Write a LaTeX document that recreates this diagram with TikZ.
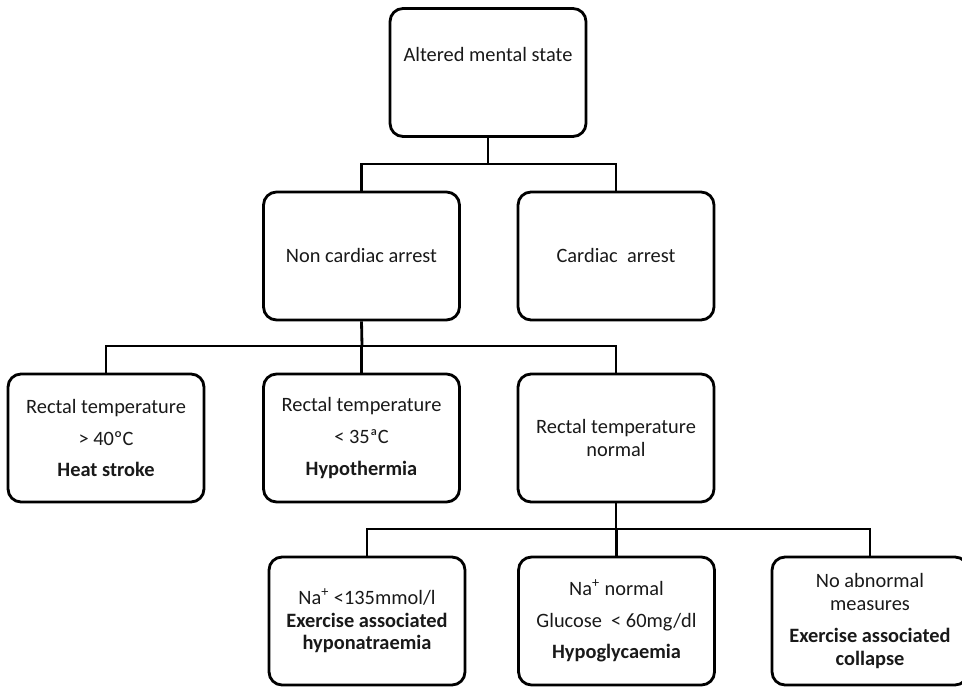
\documentclass[tikz,border=0pt]{standalone}
\usepackage{fontspec}
\setmainfont{Carlito}
\begin{document}
\begin{tikzpicture}[x=0.02cm,y=-0.02cm,
  box/.style={draw, line width=1.6pt, rounded corners=0.26cm, minimum width=3.92cm, minimum height=2.56cm, align=center, inner sep=2pt, font=\fontsize{11.6}{13}\selectfont, text=black!90},
  lbl/.style={align=center, inner sep=0pt, font=\fontsize{11.6}{13}\selectfont, text=black!90},
  conn/.style={draw, line width=1.6pt}]
\useasboundingbox (0,0) rectangle (962,688);
% level 1
\node[box] (alt) at (488,72.5) {};
\node[lbl] (alttext) at (488,55) {Altered mental state};
% level 2
\node[box] (nca) at (361.5,256) {Non cardiac arrest};
\node[box] (ca) at (616,256) {Cardiac\ \ arrest};
% level 3
\node[box] (heat) at (106,438) {Rectal temperature\\[5pt] > 40ºC\\[5pt] \textbf{Heat stroke}};
\node[box] (hypo) at (361.5,438) {Rectal temperature\\[5pt] < 35ªC\\[5pt] \textbf{Hypothermia}};
\node[box] (norm) at (616,438) {Rectal temperature\\ normal};
% level 4
\node[box] (hna) at (367,621) {Na\textsuperscript{+} <135mmol/l\\ \textbf{Exercise associated}\\ \textbf{hyponatraemia}};
\node[box] (hgly) at (616.5,621) {Na\textsuperscript{+} normal\\[5pt] Glucose\ \ < 60mg/dl\\[5pt] \textbf{Hypoglycaemia}};
\node[box] (eac) at (870,621) {No abnormal\\ measures\\[5pt] \textbf{Exercise associated}\\ \textbf{collapse}};
% connectors
\coordinate (j1) at (488,164);
\coordinate (j2) at (362,346);
\coordinate (j3) at (616,529);
\draw[conn] (alt.south) -- (j1);
\draw[conn] (nca.north) |- (j1) -| (ca.north);
\draw[conn] (nca.south) -- (j2);
\draw[conn] (heat.north) |- (j2) -| (norm.north);
\draw[conn] (hypo.north) -- (hypo.north |- j2);
\draw[conn] (norm.south) -- (j3);
\draw[conn] (hna.north) |- (j3) -| (eac.north);
\draw[conn] (hgly.north) -- (hgly.north |- j3);
\end{tikzpicture}
\end{document}
